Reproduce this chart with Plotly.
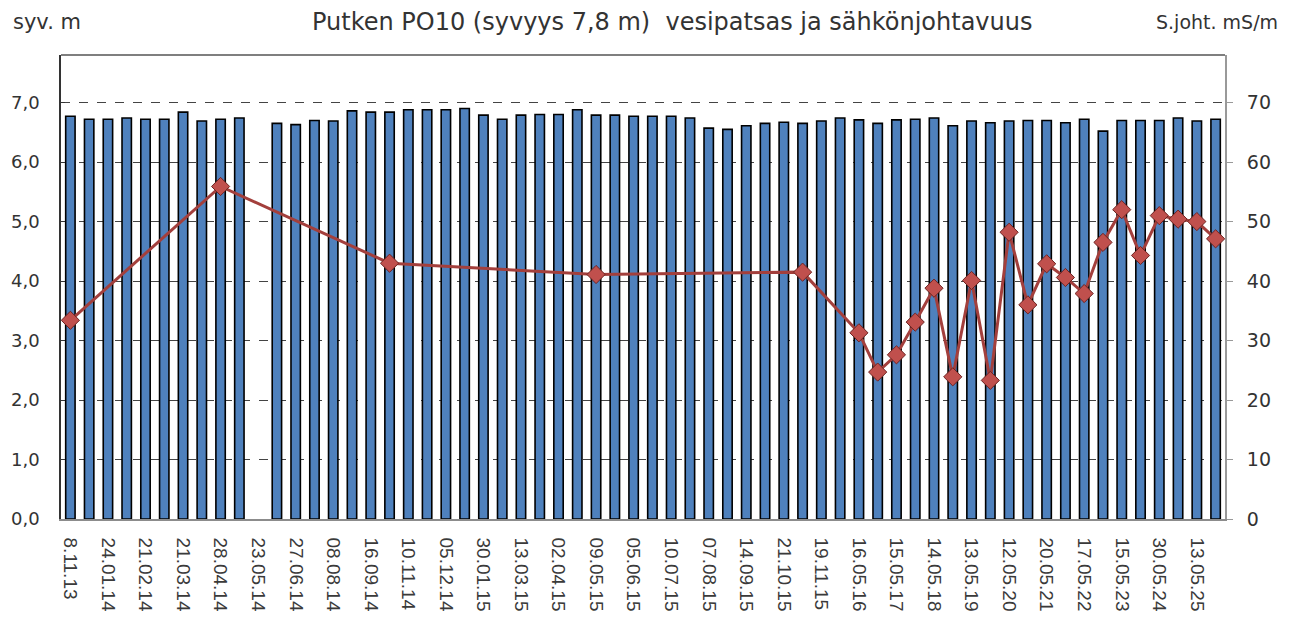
import plotly.graph_objects as go

# tick labels under every second bar (Excel skips the rest)
tick_labels = [
    "8.11.13", "24.01.14", "21.02.14", "21.03.14", "28.04.14", "23.05.14",
    "27.06.14", "08.08.14", "16.09.14", "10.11.14", "05.12.14", "30.01.15",
    "13.03.15", "02.04.15", "09.05.15", "05.06.15", "10.07.15", "07.08.15",
    "14.09.15", "21.10.15", "19.11.15", "16.05.16", "15.05.17", "14.05.18",
    "13.05.19", "12.05.20", "20.05.21", "17.05.22", "15.05.23", "30.05.24",
    "13.05.25",
]

# water column (m), one per measurement slot; None = no reading
water_column = [
    6.77, 6.72, 6.72, 6.74, 6.72, 6.72, 6.84, 6.69, 6.72, 6.74,
    None, 6.65, 6.63, 6.70, 6.69, 6.86, 6.84, 6.84, 6.88, 6.88,
    6.88, 6.90, 6.79, 6.72, 6.79, 6.80, 6.80, 6.88, 6.79, 6.79,
    6.77, 6.77, 6.77, 6.74, 6.57, 6.55, 6.61, 6.65, 6.67, 6.65,
    6.69, 6.74, 6.71, 6.65, 6.71, 6.72, 6.74, 6.61, 6.69, 6.66,
    6.69, 6.70, 6.70, 6.66, 6.72, 6.52, 6.70, 6.70, 6.70, 6.74,
    6.69, 6.72,
]

# conductivity (mS/m)
conductivity = [
    33.4, None, None, None, None, None, None, None, 55.9, None,
    None, None, None, None, None, None, None, 43.0, None, None,
    None, None, None, None, None, None, None, None, 41.1, None,
    None, None, None, None, None, None, None, None, None, 41.5,
    None, None, 31.3, 24.7, 27.6, 33.1, 38.8, 23.9, 40.1, 23.3,
    48.2, 36.0, 42.9, 40.6, 37.9, 46.5, 52.0, 44.3, 51.0, 50.4,
    50.0, 47.1,
]

x = list(range(len(water_column)))
FONT = "DejaVu Sans"

fig = go.Figure()
fig.add_trace(go.Bar(
    x=x, y=water_column, width=0.5,
    marker=dict(color="#4F81BD", line=dict(color="#000000", width=1.6)),
))
fig.add_trace(go.Scatter(
    x=x, y=conductivity, yaxis="y2", mode="lines+markers", connectgaps=True,
    line=dict(color="#A33F3C", width=3),
    marker=dict(symbol="diamond", size=14, color="#C0504D",
                line=dict(color="#6E2422", width=1)),
))

# page body keeps its default 8px margin, so the figure is sized to fit inside it
fig.update_layout(
    width=1279, height=616,
    margin=dict(l=53, r=62, t=47, b=105),
    plot_bgcolor="white", paper_bgcolor="white",
    showlegend=False, separators=", ",
    font=dict(family=FONT, color="#333333"),
    xaxis=dict(
        range=[-0.5, 61.5],
        tickmode="array", tickvals=x[::2], ticktext=tick_labels,
        tickangle=90, ticklabelstandoff=13,
        tickfont=dict(family="Liberation Sans", size=19, color="#3a3a3a"),
        showgrid=False, showline=True, linecolor="#8c8c8c", linewidth=1.5,
        ticks="", automargin=False,
    ),
    yaxis=dict(
        range=[0, 7.8], tickmode="array", tickvals=[0, 1, 2, 3, 4, 5, 6, 7],
        tickformat=".1f", tickfont=dict(size=18), ticklabelstandoff=16,
        showgrid=True, gridcolor="#444444", griddash="dash", gridwidth=1,
        zeroline=False, showline=True, linecolor="#333333", linewidth=1.5,
        ticks="inside", ticklen=4, tickcolor="#333333", automargin=False,
    ),
    yaxis2=dict(
        overlaying="y", side="right", range=[0, 78],
        tickmode="array", tickvals=[0, 10, 20, 30, 40, 50, 60, 70],
        tickfont=dict(size=19), ticklabelstandoff=10,
        showgrid=False, zeroline=False,
        showline=True, linecolor="#999999", linewidth=2,
        ticks="outside", ticklen=6, tickcolor="#999999", automargin=False,
    ),
    shapes=[dict(type="line", xref="paper", yref="paper", x0=0, x1=1, y0=1, y1=1,
                 line=dict(color="#555555", width=1.5))],
    annotations=[
        dict(text="Putken PO10 (syvyys 7,8 m)  vesipatsas ja sähkönjohtavuus",
             xref="paper", yref="paper", x=0.525, y=1.0, yshift=33,
             xanchor="center", yanchor="middle", showarrow=False,
             font=dict(size=24)),
        dict(text="syv. m", xref="paper", yref="paper", x=0.0, xshift=-14,
             y=1.0, yshift=33, xanchor="center", yanchor="middle",
             showarrow=False, font=dict(size=21)),
        dict(text="S.joht. mS/m", xref="paper", yref="paper", x=1.0, xshift=55,
             y=1.0, yshift=33, xanchor="right", yanchor="middle",
             showarrow=False, font=dict(size=19)),
    ],
)

fig.write_html("out.html")
